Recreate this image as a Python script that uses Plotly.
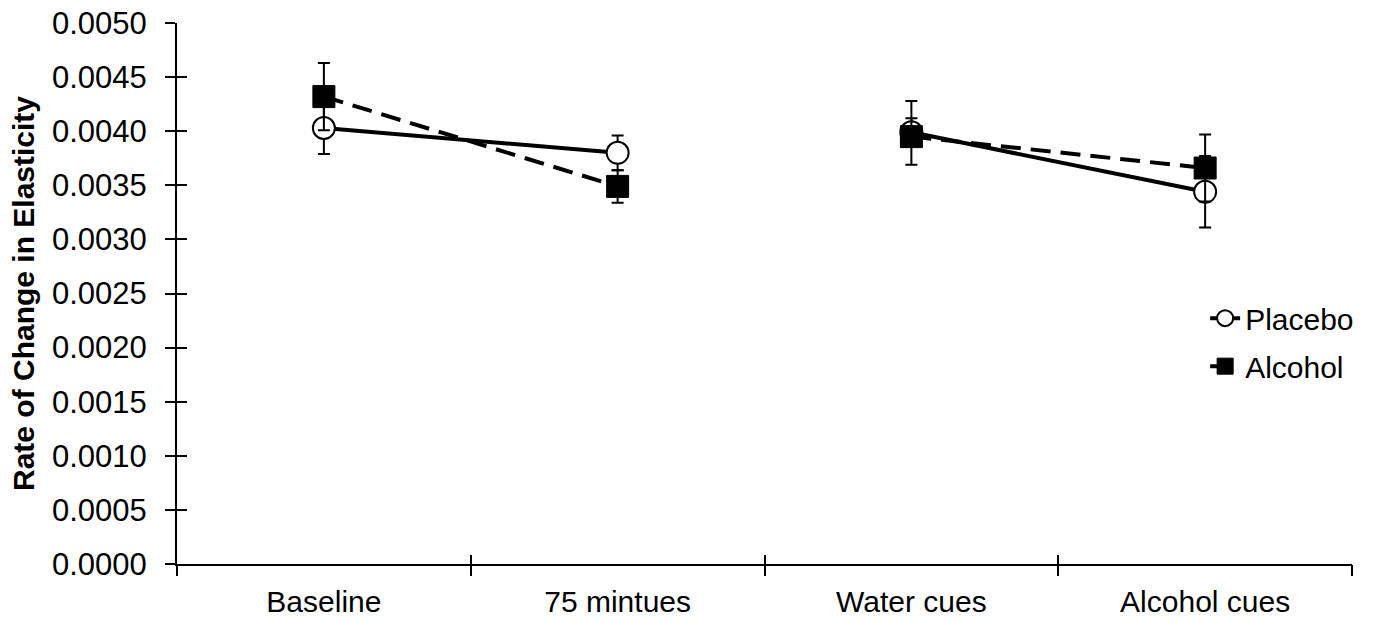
import plotly.graph_objects as go

categories = ["Baseline", "75 mintues", "Water cues", "Alcohol cues"]
placebo = [0.00403, 0.00380, 0.00399, 0.00344]
placebo_err = [0.00024, 0.00016, 0.00013, 0.00033]
alcohol = [0.00432, 0.00349, 0.00395, 0.00366]
alcohol_err_plus = [0.00031, 0.00015, 0.00033, 0.00031]
alcohol_err_minus = [0.00031, 0.00015, 0.00026, 0.00031]
segments = [(0, 2), (2, 4)]
y_tick_vals = [0.0, 0.0005, 0.0010, 0.0015, 0.0020, 0.0025, 0.0030, 0.0035, 0.0040, 0.0045, 0.0050]
y_tick_text = ["0.0000", "0.0005", "0.0010", "0.0015", "0.0020", "0.0025", "0.0030",
               "0.0035", "0.0040", "0.0045", "0.0050"]
y_range = [0, 0.0050002]

FONT = "Arial, Liberation Sans, sans-serif"
xpos = list(range(len(categories)))
bounds = [i - 0.5 for i in range(len(categories) + 1)]

fig = go.Figure()

for k, (a, b) in enumerate(segments):
    fig.add_trace(go.Scatter(
        x=xpos[a:b], y=placebo[a:b], name="Placebo", legendgroup="p",
        showlegend=(k == 0), mode="lines+markers",
        line=dict(color="black", width=4),
        marker=dict(symbol="circle", size=22, color="white", line=dict(color="black", width=2)),
        error_y=dict(type="data", array=placebo_err[a:b], color="black", thickness=2, width=6),
    ))
for k, (a, b) in enumerate(segments):
    fig.add_trace(go.Scatter(
        x=xpos[a:b], y=alcohol[a:b], name="Alcohol", legendgroup="a",
        showlegend=(k == 0), mode="lines+markers",
        line=dict(color="black", width=4, dash="20px,10px"),
        marker=dict(symbol="square", size=22, color="black", line=dict(color="black", width=1)),
        error_y=dict(type="data", symmetric=False, array=alcohol_err_plus[a:b],
                     arrayminus=alcohol_err_minus[a:b], color="black", thickness=2, width=6),
    ))

# invisible traces to host the overlay tick axes
fig.add_trace(go.Scatter(x=[None], y=[None], xaxis="x2", yaxis="y2", showlegend=False, hoverinfo="skip"))
fig.add_trace(go.Scatter(x=[None], y=[None], xaxis="x3", yaxis="y2", showlegend=False, hoverinfo="skip"))

fig.update_layout(
    width=1376, height=622,
    paper_bgcolor="white", plot_bgcolor="white",
    margin=dict(l=177, r=24, t=23, b=58),
    font=dict(family=FONT, size=30, color="black"),
    showlegend=True,
    legend=dict(x=0.875, y=0.5025, xanchor="left", yanchor="top",
                bgcolor="rgba(0,0,0,0)", font=dict(size=30), tracegroupgap=6,
                traceorder="grouped"),
    xaxis=dict(range=[-0.5, 3.5], tickvals=xpos, ticktext=categories, ticks="",
               showline=True, linecolor="black", linewidth=2, showgrid=False, zeroline=False,
               ticklabelstandoff=10, automargin=False, tickfont=dict(size=30)),
    xaxis2=dict(range=[-0.5, 3.5], overlaying="x", anchor="y", tickvals=bounds, ticks="outside",
                ticklen=11, tickwidth=2, tickcolor="black", showticklabels=False,
                showline=False, showgrid=False, zeroline=False, automargin=False),
    xaxis3=dict(range=[-0.5, 3.5], overlaying="x", anchor="y", tickvals=bounds, ticks="inside",
                ticklen=9, tickwidth=2, tickcolor="black", showticklabels=False,
                showline=False, showgrid=False, zeroline=False, automargin=False),
    yaxis=dict(range=y_range, tickvals=y_tick_vals, ticktext=y_tick_text, ticks="outside",
               ticklen=10, tickwidth=2, tickcolor="black", showline=True, linecolor="black",
               linewidth=2, showgrid=False, zeroline=False, ticklabelstandoff=12,
               automargin=False, tickfont=dict(size=31), ticklabeloverflow="allow",
               title=dict(text="Rate of Change in Elasticity", standoff=8,
                          font=dict(size=30, weight="bold"))),
    yaxis2=dict(range=y_range, overlaying="y", anchor="x", side="left", tickvals=y_tick_vals,
                ticks="inside", ticklen=10, tickwidth=2, tickcolor="black", showticklabels=False,
                showline=False, showgrid=False, zeroline=False, automargin=False),
)

fig.write_html("out.html", config={"displayModeBar": False},
               post_script="document.body.style.margin='0';")
